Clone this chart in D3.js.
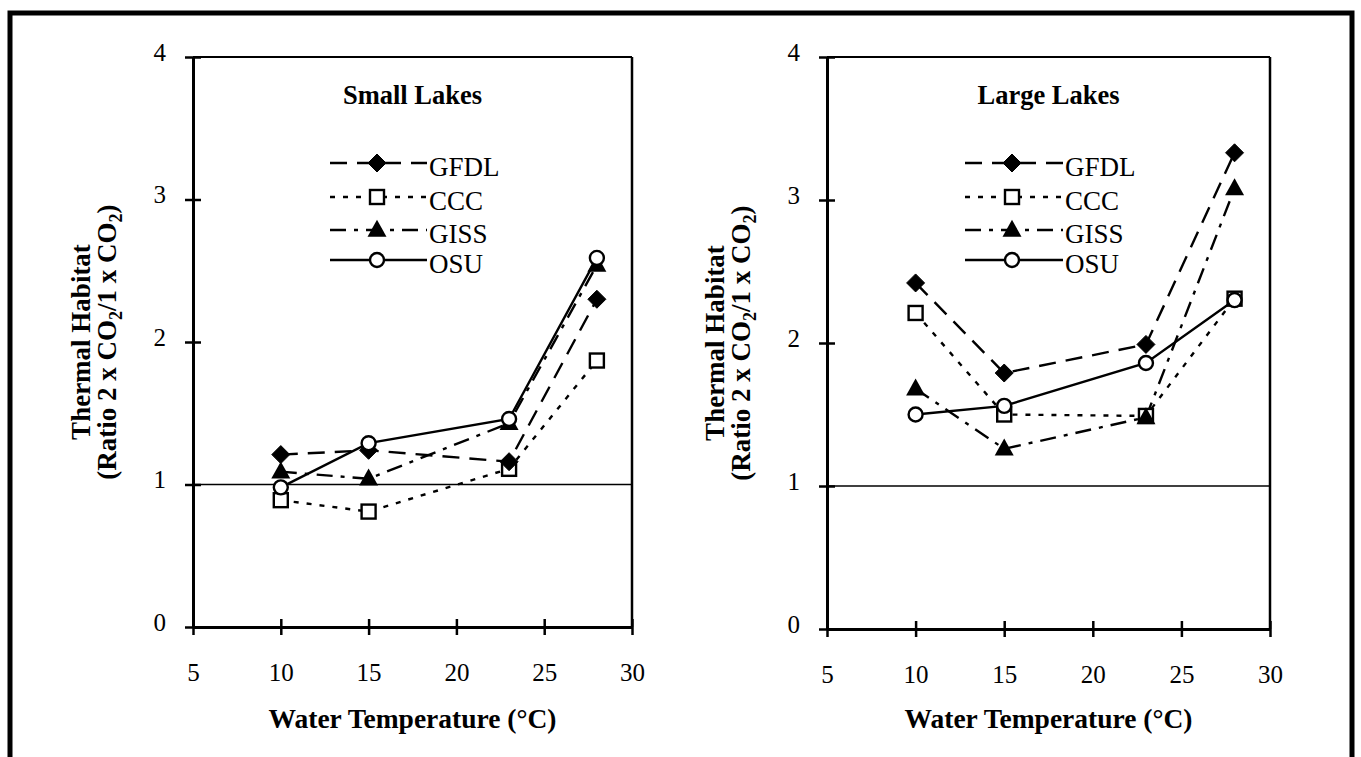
<!DOCTYPE html>
<html><head><meta charset="utf-8">
<script src="https://cdn.jsdelivr.net/npm/d3@7"></script>
<style>
html,body{margin:0;padding:0;background:#fff;}
svg{display:block;}
text{font-family:"Liberation Serif","Times New Roman",serif;fill:#000;}
</style></head>
<body>
<svg id="chart" width="1361" height="757"></svg>
<script>
// ---- data ----
const temps = [10, 15, 23, 28];
const seriesNames = ["GFDL", "CCC", "GISS", "OSU"];
const xTicks = [5, 10, 15, 20, 25, 30];
const yTicks = [0, 1, 2, 3, 4];
const smallGFDL = [1.21, 1.24, 1.16, 2.30];
const smallCCC  = [0.89, 0.81, 1.11, 1.87];
const smallGISS = [1.09, 1.04, 1.43, 2.54];
const smallOSU  = [0.98, 1.29, 1.46, 2.59];
const largeGFDL = [2.42, 1.79, 1.99, 3.33];
const largeCCC  = [2.21, 1.50, 1.49, 2.31];
const largeGISS = [1.68, 1.26, 1.48, 3.08];
const largeOSU  = [1.50, 1.56, 1.86, 2.30];
const panelTitles = ["Small Lakes", "Large Lakes"];
const xTitle = "Water Temperature (°C)";

const styles = {
  GFDL: {dash: "17,10", marker: "diamond"},
  CCC:  {dash: "5,8", marker: "square"},
  GISS: {dash: "16,8,4,8", marker: "triangle"},
  OSU:  {dash: null, marker: "circle"}
};

const svg = d3.select("#chart");
// outer frame
svg.append("rect").attr("x", 10).attr("y", 13).attr("width", 1342).attr("height", 760)
  .attr("fill", "none").attr("stroke", "#000").attr("stroke-width", 5);

const panels = [
  {title: panelTitles[0], x0: 193, x1: 632, y0: 627, y1: 57,
   data: {GFDL: smallGFDL, CCC: smallCCC, GISS: smallGISS, OSU: smallOSU},
   legX0: 330, legX1: 427, legM: 377},
  {title: panelTitles[1], x0: 827, x1: 1270, y0: 629, y1: 57,
   data: {GFDL: largeGFDL, CCC: largeCCC, GISS: largeGISS, OSU: largeOSU},
   legX0: 965, legX1: 1063, legM: 1012}
];

function marker(g, type, cx, cy) {
  if (type === "diamond") {
    const s = 9;
    g.append("path").attr("d", `M${cx},${cy-s}L${cx+s},${cy}L${cx},${cy+s}L${cx-s},${cy}Z`)
      .attr("fill", "#000").attr("stroke", "#000").attr("stroke-width", 1);
  } else if (type === "square") {
    const s = 7;
    g.append("rect").attr("x", cx-s).attr("y", cy-s).attr("width", 2*s).attr("height", 2*s)
      .attr("fill", "#fff").attr("stroke", "#000").attr("stroke-width", 2.4);
  } else if (type === "triangle") {
    const h = 17, w = 19;
    g.append("path").attr("d", `M${cx},${cy-h*0.6}L${cx+w/2},${cy+h*0.4}L${cx-w/2},${cy+h*0.4}Z`)
      .attr("fill", "#000");
  } else if (type === "circle") {
    g.append("circle").attr("cx", cx).attr("cy", cy).attr("r", 7)
      .attr("fill", "#fff").attr("stroke", "#000").attr("stroke-width", 2.4);
  }
}

panels.forEach(p => {
  const x = d3.scaleLinear().domain([5, 30]).range([p.x0, p.x1]);
  const y = d3.scaleLinear().domain([0, 4]).range([p.y0, p.y1]);
  const g = svg.append("g");

  // frame top & right
  g.append("line").attr("x1", p.x0).attr("x2", p.x1).attr("y1", p.y1).attr("y2", p.y1)
    .attr("stroke", "#000").attr("stroke-width", 2);
  g.append("line").attr("x1", p.x1).attr("x2", p.x1).attr("y1", p.y1).attr("y2", p.y0)
    .attr("stroke", "#000").attr("stroke-width", 2.5);
  // reference line at 1
  g.append("line").attr("x1", p.x0).attr("x2", p.x1).attr("y1", y(1)).attr("y2", y(1))
    .attr("stroke", "#000").attr("stroke-width", 1.5);

  // x axis
  const xa = g.append("g").attr("transform", `translate(0,${p.y0})`)
    .call(d3.axisBottom(x).tickValues(xTicks).tickSize(7).tickSizeOuter(0).tickFormat(d3.format("d")));
  xa.select(".domain").attr("stroke-width", 3);
  xa.selectAll(".tick line").attr("y1", -8).attr("y2", 8).attr("stroke-width", 2.5);
  xa.selectAll(".tick text").attr("y", 54).attr("dy", 0).style("font-size", "25px")
    .style("font-family", "'Liberation Serif', serif");
  // y axis
  const ya = g.append("g").attr("transform", `translate(${p.x0},0)`)
    .call(d3.axisLeft(y).tickValues(yTicks).tickSize(7).tickSizeOuter(0).tickFormat(d3.format("d")));
  ya.select(".domain").attr("stroke-width", 3);
  ya.selectAll(".tick line").attr("x1", -8).attr("x2", 8).attr("stroke-width", 2.5);
  ya.selectAll(".tick text").attr("x", -27).attr("dy", "0.32em").attr("transform", "translate(0,-5)")
    .style("font-size", "25px").style("font-family", "'Liberation Serif', serif");

  // series
  seriesNames.forEach(name => {
    const st = styles[name];
    const vals = p.data[name];
    const pts = temps.map((t, i) => [x(t), y(vals[i])]);
    const path = g.append("path").attr("d", d3.line()(pts)).attr("fill", "none")
      .attr("stroke", "#000").attr("stroke-width", 2.4);
    if (st.dash) path.attr("stroke-dasharray", st.dash);
  });
  // markers on top
  ["CCC", "GFDL", "GISS", "OSU"].forEach(name => {
    const st = styles[name];
    const vals = p.data[name];
    temps.forEach((t, i) => marker(g, st.marker, x(t), y(vals[i])));
  });

  // title
  g.append("text").attr("x", (p.x0 + p.x1) / 2).attr("y", 104).attr("text-anchor", "middle")
    .style("font-size", "26.5px").style("font-weight", "bold").text(p.title);

  // legend
  const rowsY = [163, 197, 230, 260];
  seriesNames.forEach((name, i) => {
    const st = styles[name];
    const ly = rowsY[i];
    const l = g.append("line").attr("x1", p.legX0).attr("x2", p.legX1).attr("y1", ly).attr("y2", ly)
      .attr("stroke", "#000").attr("stroke-width", 2.4);
    if (st.dash) l.attr("stroke-dasharray", st.dash);
    marker(g, st.marker, p.legM, ly);
    g.append("text").attr("x", p.legX1 + 2).attr("y", ly + 13).style("font-size", "27px").text(name);
  });

  // x title
  g.append("text").attr("x", (p.x0 + p.x1) / 2).attr("y", 728).attr("text-anchor", "middle")
    .style("font-size", "27.5px").style("font-weight", "bold").text(xTitle);

  // y title (rotated, two lines)
  const cy = (p.y0 + p.y1) / 2;
  const yt = g.append("text").attr("transform", `translate(${p.x0 - 103},${cy}) rotate(-90)`)
    .attr("text-anchor", "middle").style("font-size", "27px").style("font-weight", "bold");
  yt.append("tspan").attr("x", 0).attr("y", 0).text("Thermal Habitat");
  const t2 = g.append("text").attr("transform", `translate(${p.x0 - 77},${cy}) rotate(-90)`)
    .attr("text-anchor", "middle").style("font-size", "27px").style("font-weight", "bold");
  t2.append("tspan").text("(Ratio 2 x CO");
  t2.append("tspan").attr("dy", 6).style("font-size", "18px").text("2");
  t2.append("tspan").attr("dy", -6).text("/1 x CO");
  t2.append("tspan").attr("dy", 6).style("font-size", "18px").text("2");
  t2.append("tspan").attr("dy", -6).text(")");
});
</script>
</body></html>
